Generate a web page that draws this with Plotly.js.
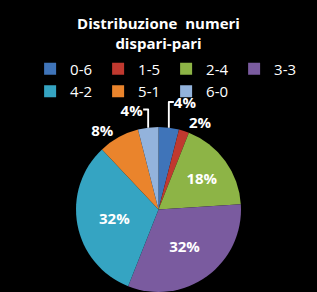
<!DOCTYPE html>
<html>
<head>
<meta charset="utf-8">
<script src="https://cdn.plot.ly/plotly-3.0.1.min.js"></script>
<style>html,body{margin:0;padding:0;background:#000;}#chart{width:317px;height:292px;}</style>
</head>
<body>
<div id="chart"></div>
<script>
const categories = ["0-6", "1-5", "2-4", "3-3", "4-2", "5-1", "6-0"];
const values = [4, 2, 18, 32, 32, 8, 4];
const colors = ["#3f74b9", "#c0392f", "#8db446", "#7a5b9f", "#35a4c2", "#ea842c", "#93b3dc"];

const trace = {
  type: "pie",
  labels: categories,
  values: values,
  sort: false,
  direction: "clockwise",
  rotation: 0,
  marker: {colors: colors, line: {color: "#000", width: 0}},
  texttemplate: "%{percent:.0%}",
  textposition: ["outside", "outside", "inside", "inside", "inside", "outside", "outside"],
  textfont: {family: "Open Sans, Liberation Sans, sans-serif", size: 15, color: "#fff", weight: "bold"},
  insidetextorientation: "horizontal",
  hoverinfo: "none",
  domain: {x: [0.05, 0.95], y: [0.0, 0.565]}
};

const layout = {
  width: 317, height: 292,
  paper_bgcolor: "#000", plot_bgcolor: "#000",
  margin: {l: 0, r: 0, t: 0, b: 0},
  title: {
    text: "<b>Distribuzione  numeri<br>dispari-pari</b>",
    font: {family: "Open Sans, Liberation Sans, sans-serif", size: 15, color: "#fff"},
    x: 0.5, xanchor: "center", y: 0.9, yanchor: "middle", yref: "container"
  },
  showlegend: true,
  legend: {
    orientation: "h", x: 0.095, xanchor: "left", y: 0.82, yanchor: "top",
    font: {family: "Open Sans, Liberation Sans, sans-serif", size: 15, color: "#fff"},
    entrywidth: 23, entrywidthmode: "pixels",
    itemwidth: 30, tracegroupgap: 0, bgcolor: "rgba(0,0,0,0)"
  }
};

Plotly.newPlot("chart", [trace], layout, {displayModeBar: false, staticPlot: true});
</script>
</body>
</html>
